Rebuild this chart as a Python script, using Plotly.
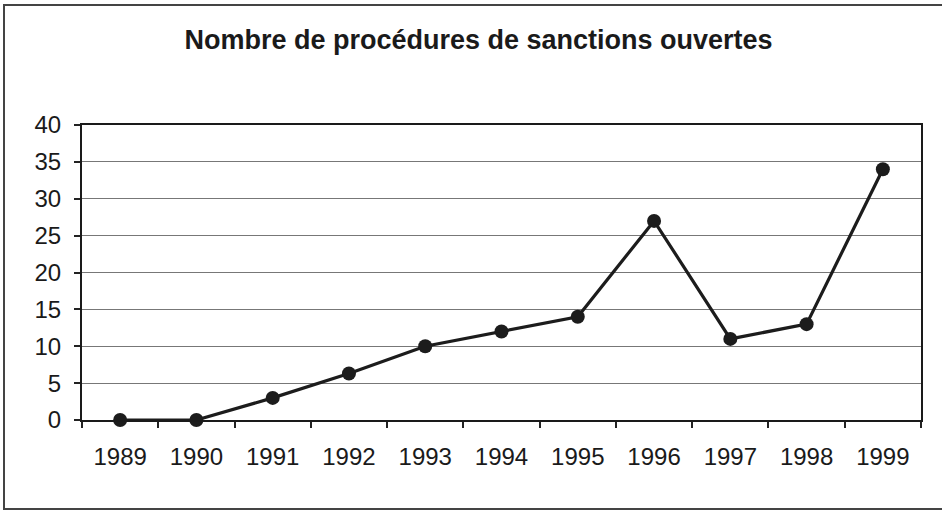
import plotly.graph_objects as go

years = ["1989", "1990", "1991", "1992", "1993", "1994", "1995", "1996", "1997", "1998", "1999"]
procedures = [0, 0, 3, 6.3, 10, 12, 14, 27, 11, 13, 34]
y_ticks = [0, 5, 10, 15, 20, 25, 30, 35, 40]

W, H = 942, 511
L, R, T, B = 82, 21, 125, 91
pw, ph = W - L - R, H - T - B

fig = go.Figure()
fig.add_trace(go.Scatter(
    x=years, y=procedures, mode="lines+markers",
    line=dict(color="#1c1c1c", width=3.2),
    marker=dict(color="#1c1c1c", size=14),
    cliponaxis=False, showlegend=False,
))

def px_x(p):
    return (p - L) / pw

def px_y(p):
    return (H - B - p) / ph

fig.update_layout(
    width=W, height=H,
    margin=dict(l=L, r=R, t=T, b=B),
    paper_bgcolor="white", plot_bgcolor="white",
    font=dict(family="Liberation Sans, Arial, sans-serif", color="#1a1a1a"),
    title=dict(text="<b>Nombre de procédures de sanctions ouvertes</b>",
               x=0.508, xanchor="center", y=1 - 40 / H, yanchor="middle",
               font=dict(size=27, color="#1a1a1a")),
    xaxis=dict(type="category", range=[-0.5, len(years) - 0.5],
               tickson="boundaries", ticks="outside", ticklen=6,
               tickcolor="#222", tickwidth=1.5,
               showline=True, linecolor="#1a1a1a", linewidth=2, mirror=True,
               showgrid=False, tickfont=dict(size=24), ticklabelstandoff=14),
    yaxis=dict(range=[0, 40], tickvals=y_ticks, ticks="outside", ticklen=6,
               tickcolor="#222", tickwidth=1.5,
               showline=True, linecolor="#1a1a1a", linewidth=2, mirror=True,
               showgrid=True, gridcolor="#777", gridwidth=1, zeroline=False,
               tickfont=dict(size=24), ticklabelstandoff=8),
    shapes=[dict(type="rect", xref="paper", yref="paper",
                 x0=px_x(4), x1=px_x(960), y0=px_y(509), y1=px_y(5),
                 line=dict(color="#444", width=2), fillcolor="rgba(0,0,0,0)", layer="below")],
)

fig.write_html("out.html", config={"displayModeBar": False},
               post_script="document.body.style.margin='0';document.body.style.overflow='hidden';")
